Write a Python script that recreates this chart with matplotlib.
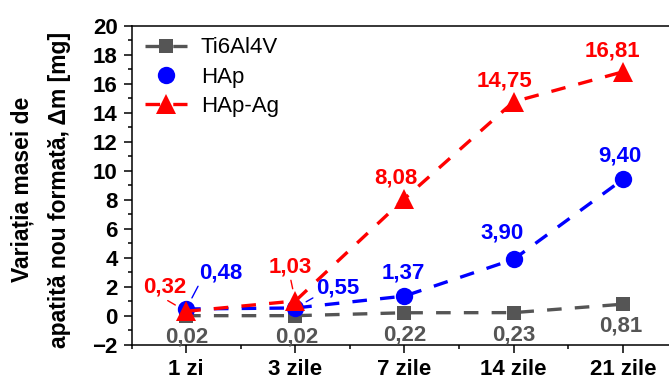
import numpy as np
import matplotlib.pyplot as plt
from matplotlib.lines import Line2D
from matplotlib.ticker import MultipleLocator

plt.rcParams['font.family'] = ['Liberation Sans', 'DejaVu Sans']
plt.rcParams['lines.scale_dashes'] = False

# Mass gain of newly formed apatite, mg
days = ['1 zi', '3 zile', '7 zile', '14 zile', '21 zile']
ti6al4v = [0.02, 0.02, 0.22, 0.23, 0.81]
hap = [0.48, 0.55, 1.37, 3.90, 9.40]
hap_ag = [0.32, 1.03, 8.08, 14.75, 16.81]

# label offsets in pixels (dx, dy) from each point
ti_offsets = [(1, -21), (1, -21), (0, -22), (0, -22), (-2, -22)]
hap_offsets = [(35, 36), (42, 20), (-1, 23), (-12, 26), (-3, 23)]
hap_ag_offsets = [(-21, 24), (-5, 34), (-9, 21), (-9, 21), (-10, 21)]
# which labels get a short leader line, and where it leaves the text
ti_leaders = [None] * 5
hap_leaders = [(0.0, 0.0), (0.0, 0.1), None, None, None]
hap_ag_leaders = [(0.45, 0.0), (0.5, 0.0), None, None, None]

grey = '#555555'
blue = '#0000ff'
red = '#ff0000'

fig = plt.figure(figsize=(6.69, 3.79), dpi=100)
ax = fig.add_axes([0.1966, 0.0897, 0.816, 0.843])
x = np.arange(len(days))

series = [
    (ti6al4v, grey, 's', 10.5, ti_offsets, ti_leaders),
    (hap, blue, 'o', 12.5, hap_offsets, hap_leaders),
    (hap_ag, red, '^', 14, hap_ag_offsets, hap_ag_leaders),
]

for i, (values, color, marker, ms, offsets, leaders) in enumerate(series):
    z = 2 + i * 0.2
    ax.plot(x, values, color=color, lw=2.4, dashes=(10.5, 9.5), zorder=z)
    ax.plot(x, values, ls='none', marker=marker, ms=ms, color=color,
            markeredgewidth=0, zorder=z + 0.1)
    for xi, v, (dx, dy), lead in zip(x, values, offsets, leaders):
        text = f'{v:.2f}'.replace('.', ',')
        kw = {}
        if lead is not None:
            kw['arrowprops'] = dict(arrowstyle='-', color=color, lw=1,
                                    relpos=lead, shrinkA=0, shrinkB=9)
        ax.annotate(text, (xi, v), xytext=(dx, dy), textcoords='offset pixels',
                    ha='center', va='center', color=color, fontsize=16,
                    fontweight='bold', annotation_clip=False, zorder=5, **kw)

ax.set_xlim(-0.5, 4.5)
ax.set_ylim(-2, 20)
ax.set_xticks(x, days)
ax.xaxis.set_minor_locator(MultipleLocator(0.5))
ax.yaxis.set_major_locator(MultipleLocator(2))
ax.yaxis.set_minor_locator(MultipleLocator(1))
ax.tick_params(which='major', direction='out', length=6, width=1.1,
               labelsize=16, pad=4)
ax.tick_params(which='minor', direction='out', length=3, width=1.1)
for lbl in ax.get_xticklabels() + ax.get_yticklabels():
    lbl.set_fontweight('bold')

ax.spines['right'].set_visible(False)
for side in ('left', 'top', 'bottom'):
    ax.spines[side].set_linewidth(1.1)

fig.text(41 / 669, 0.5, 'Variația masei de\napatită nou formată, Δm [mg]',
         rotation=90, ha='center', va='center', multialignment='center',
         fontsize=16.5, fontweight='bold', linespacing=1.75)

handles = [
    Line2D([], [], color=grey, lw=2.4, dashes=(10.5, 9.5), marker='s', ms=10.5,
           markeredgewidth=0),
    Line2D([], [], color=blue, ls='none', marker='o', ms=12.5, markeredgewidth=0),
    Line2D([], [], color=red, lw=2.4, dashes=(10.5, 9.5), marker='^', ms=14,
           markeredgewidth=0),
]
ax.legend(handles, ['Ti6Al4V', 'HAp', 'HAp-Ag'], loc='upper left',
          bbox_to_anchor=(0.025, 0.963), frameon=False, borderaxespad=0,
          borderpad=0, fontsize=16, handlelength=1.9, handletextpad=0.6,
          labelspacing=0.38)

fig.savefig('out.png', dpi=100)
